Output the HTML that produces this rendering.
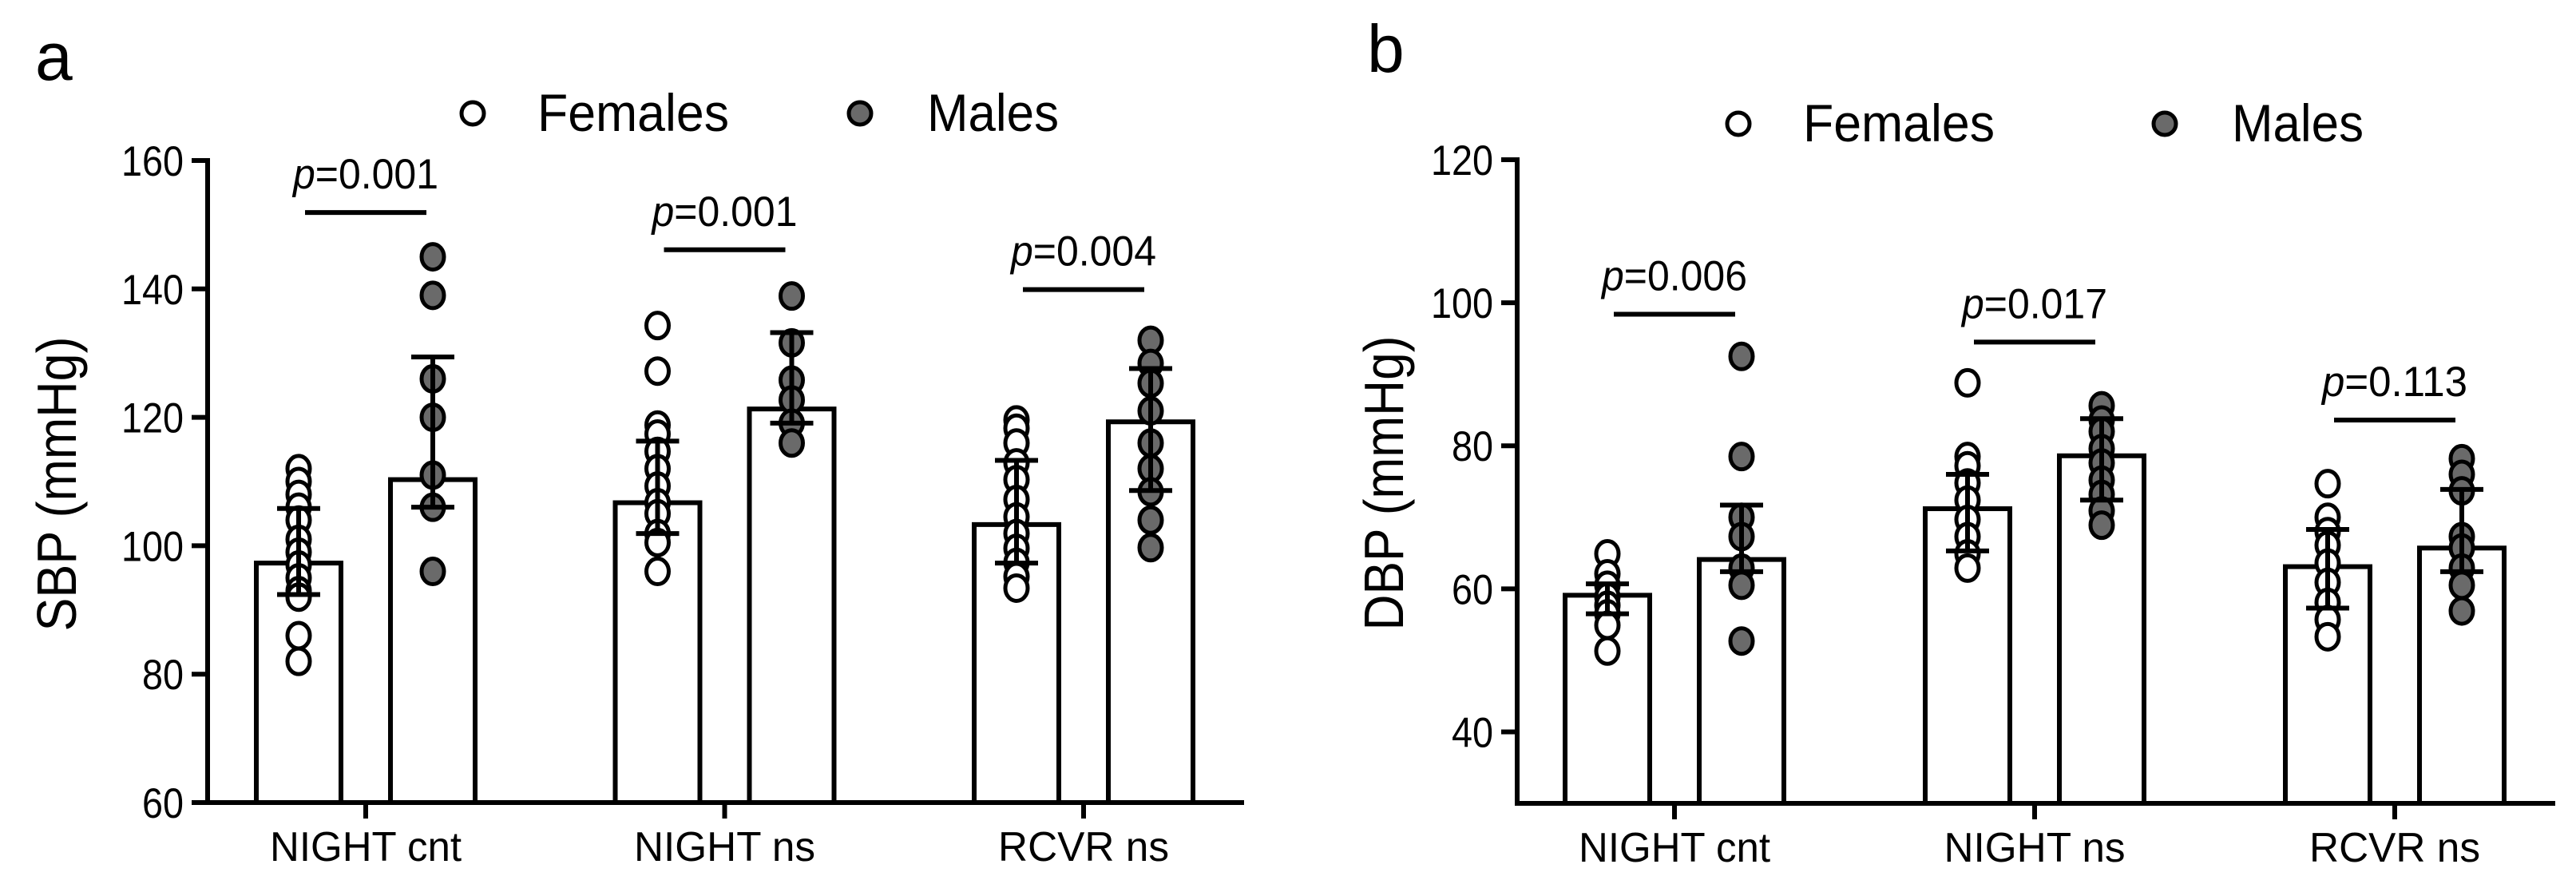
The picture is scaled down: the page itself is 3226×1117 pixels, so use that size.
<!DOCTYPE html>
<html><head><meta charset="utf-8"><style>
html,body{margin:0;padding:0;background:#fff;}
svg{display:block;font-family:"Liberation Sans",Arial,sans-serif;}
</style></head><body>
<svg id="chart" width="3226" height="1117" viewBox="0 0 3226 1117" xmlns="http://www.w3.org/2000/svg"></svg>
<script>
// ---- data ----
const categories = ["NIGHT cnt", "NIGHT ns", "RCVR ns"];
const sbpFemaleMean = [97.3, 106.7, 103.3];
const sbpMaleMean = [110.3, 121.3, 119.3];
const sbpFemaleHi = [105.8, 116.3, 113.3];
const sbpFemaleLo = [92.4, 101.9, 97.3];
const sbpMaleHi = [129.4, 133.2, 127.6];
const sbpMaleLo = [106.0, 119.1, 108.6];
const sbpFemalePts = [
  [112,110,108,106,104,101,99,97,95,93,92,86,82],
  [134.3,127.2,118.8,117.4,114.7,112,109.3,106.7,105,101.9,100.5,96],
  [119.6,118.3,116,112.9,110.3,107.2,104.5,101.9,99.6,97.4,95.2,93.4]
];
const sbpMalePts = [
  [145,139,126,120,111,106,96],
  [138.9,131.6,125.8,122.7,119.1,116],
  [132,128.4,125.3,121,116,112,108.4,104,99.7]
];
const sbpPLabels = ["0.001", "0.001", "0.004"];
const sbpPLevel = [151.9, 146.1, 139.9];
const sbpTicks = [60, 80, 100, 120, 140, 160];

const dbpFemaleMean = [59.1, 71.2, 63.1];
const dbpMaleMean = [64.1, 78.6, 65.7];
const dbpFemaleHi = [60.7, 76.0, 68.3];
const dbpFemaleLo = [56.5, 65.3, 57.3];
const dbpMaleHi = [71.7, 83.8, 73.9];
const dbpMaleLo = [62.4, 72.4, 62.4];
const dbpFemalePts = [
  [64.9,62.1,60.5,58.9,57.7,56.5,54.9,51.3],
  [88.8,78.5,77.2,74.8,72.4,69.7,67.3,64.9,62.9],
  [74.7,70,68,66.1,63.6,60.9,58.1,55.7,53.3]
];
const dbpMalePts = [
  [92.5,78.5,70,67.3,62.9,60.5,52.7],
  [85.6,83.6,82,79.6,77.6,75.2,73.2,70.9,68.9],
  [78.2,76,73.7,67.3,65.7,62.9,60.5,56.9]
];
const dbpPLabels = ["0.006", "0.017", "0.113"];
const dbpPLevel = [98.4, 94.5, 83.6];
const dbpTicks = [40, 60, 80, 100, 120];

const NS = "http://www.w3.org/2000/svg";
const svg = document.getElementById("chart");
function mk(tag, attrs, parent, text) {
  const e = document.createElementNS(NS, tag);
  for (const k in attrs) e.setAttribute(k, attrs[k]);
  if (text !== undefined) e.textContent = text;
  (parent || svg).appendChild(e);
  return e;
}
const catWidths = [240, 227, 214];

function panel(cfg) {
  const g = mk("g", {});
  
  
  const y = v => cfg.yTop + (cfg.vMax - v) * (cfg.yBot - cfg.yTop) / (cfg.vMax - cfg.vMin);
  const gx = i => cfg.g0 + i * cfg.gStep;
  const bw = 106, off = 84, capW = 54, lw = 6;

  const letter = mk("text", {x: cfg.letterX, y: cfg.letterY, "font-size": 84, fill: "#000"}, g, cfg.letter);
  
  

  // legend
  const lf = mk("circle", {cx: cfg.legFx, cy: cfg.legY, r: 14, fill: "#fff", stroke: "#000", "stroke-width": 5}, g);
  
  
  const lft = mk("text", {x: cfg.legFx + 81, y: cfg.legY + 22, "font-size": 66, textLength: 240, lengthAdjust: "spacingAndGlyphs"}, g, "Females");
  
  
  const lm = mk("circle", {cx: cfg.legMx, cy: cfg.legY, r: 14, fill: "#6a6a6a", stroke: "#000", "stroke-width": 5}, g);
  
  
  const lmt = mk("text", {x: cfg.legMx + 84, y: cfg.legY + 22, "font-size": 66, textLength: 165, lengthAdjust: "spacingAndGlyphs"}, g, "Males");
  
  

  // y title
  const yt = mk("text", {x: 0, y: 0, "font-size": 70, "text-anchor": "middle", textLength: 369, lengthAdjust: "spacingAndGlyphs", transform: `translate(${cfg.yTitleX},${cfg.yTitleY}) rotate(-90)`}, g, cfg.yTitle);
  
  

  // ticks
  cfg.ticks.forEach(t => {
    const tl = mk("line", {x1: cfg.axisX - 20, x2: cfg.axisX, y1: y(t), y2: y(t), stroke: "#000", "stroke-width": lw}, g);
    
    
    const s = String(t);
    const tt = mk("text", {x: cfg.axisX - 30, y: y(t) + 19, "font-size": 53, "text-anchor": "end", textLength: s.length * 26, lengthAdjust: "spacingAndGlyphs"}, g, s);
    
    
  });

  categories.forEach((c, i) => {
    const cx = gx(i);
    [[cfg.fMean, cfg.fHi, cfg.fLo, cfg.fPts, -off, "#fff", "female"], [cfg.mMean, cfg.mHi, cfg.mLo, cfg.mPts, off, "#6a6a6a", "male"]].forEach(s => {
      const bx = cx + s[4];
      const bar = mk("rect", {x: bx - bw / 2, y: y(s[0][i]), width: bw, height: cfg.yBot - y(s[0][i]), fill: "#fff", stroke: "#000", "stroke-width": lw}, g);
      
      
      s[3][i].forEach(v => {
        const p = mk("ellipse", {cx: bx, cy: y(v), rx: 14, ry: 16, fill: s[5], stroke: "#000", "stroke-width": 5}, g);
        
        
      });
      const el = mk("line", {x1: bx, x2: bx, y1: y(s[1][i]), y2: y(s[2][i]), stroke: "#000", "stroke-width": lw}, g);
      
      
      [s[1][i], s[2][i]].forEach(v => {
        const cap = mk("line", {x1: bx - capW / 2, x2: bx + capW / 2, y1: y(v), y2: y(v), stroke: "#000", "stroke-width": lw}, g);
        
        
      });
    });
    const ct = mk("line", {x1: cx, x2: cx, y1: cfg.yBot, y2: cfg.yBot + 20, stroke: "#000", "stroke-width": lw}, g);
    
    
    const cl = mk("text", {x: cx, y: cfg.yBot + 73, "font-size": 52, "text-anchor": "middle", textLength: catWidths[i], lengthAdjust: "spacingAndGlyphs"}, g, c);
    
    
    const py = y(cfg.pLevel[i]);
    const sl = mk("line", {x1: cx - 76, x2: cx + 76, y1: py, y2: py, stroke: "#000", "stroke-width": lw}, g);
    
    
    const st = mk("text", {x: cx, y: py - 30, "font-size": 53, "text-anchor": "middle", textLength: 182, lengthAdjust: "spacingAndGlyphs"}, g);
    
    
    mk("tspan", {"font-style": "italic"}, st, "p");
    mk("tspan", {}, st, "=" + cfg.pLabels[i]);
  });

  const ya = mk("line", {x1: cfg.axisX, x2: cfg.axisX, y1: cfg.yTop - 3, y2: cfg.yBot + 3, stroke: "#000", "stroke-width": lw}, g);
  
  
  const xa = mk("line", {x1: cfg.axisX - 3, x2: cfg.xEnd, y1: cfg.yBot, y2: cfg.yBot, stroke: "#000", "stroke-width": lw}, g);
  
  
}

panel({name: "sbp-panel", letter: "a", letterX: 44, letterY: 100, legFx: 592, legMx: 1077, legY: 142,
  yTitle: "SBP (mmHg)", yTitleX: 95, yTitleY: 606, axisX: 260, xEnd: 1558, yTop: 201, yBot: 1005, vMin: 60, vMax: 160,
  g0: 458, gStep: 449.5, ticks: sbpTicks,
  fMean: sbpFemaleMean, mMean: sbpMaleMean, fHi: sbpFemaleHi, fLo: sbpFemaleLo, mHi: sbpMaleHi, mLo: sbpMaleLo,
  fPts: sbpFemalePts, mPts: sbpMalePts, pLabels: sbpPLabels, pLevel: sbpPLevel});

panel({name: "dbp-panel", letter: "b", letterX: 1712, letterY: 90, legFx: 2177, legMx: 2711, legY: 155,
  yTitle: "DBP (mmHg)", yTitleX: 1757, yTitleY: 605, axisX: 1900, xEnd: 3200, yTop: 200, yBot: 1006, vMin: 30, vMax: 120,
  g0: 2097, gStep: 451, ticks: dbpTicks,
  fMean: dbpFemaleMean, mMean: dbpMaleMean, fHi: dbpFemaleHi, fLo: dbpFemaleLo, mHi: dbpMaleHi, mLo: dbpMaleLo,
  fPts: dbpFemalePts, mPts: dbpMalePts, pLabels: dbpPLabels, pLevel: dbpPLevel});
</script>
</body></html>
